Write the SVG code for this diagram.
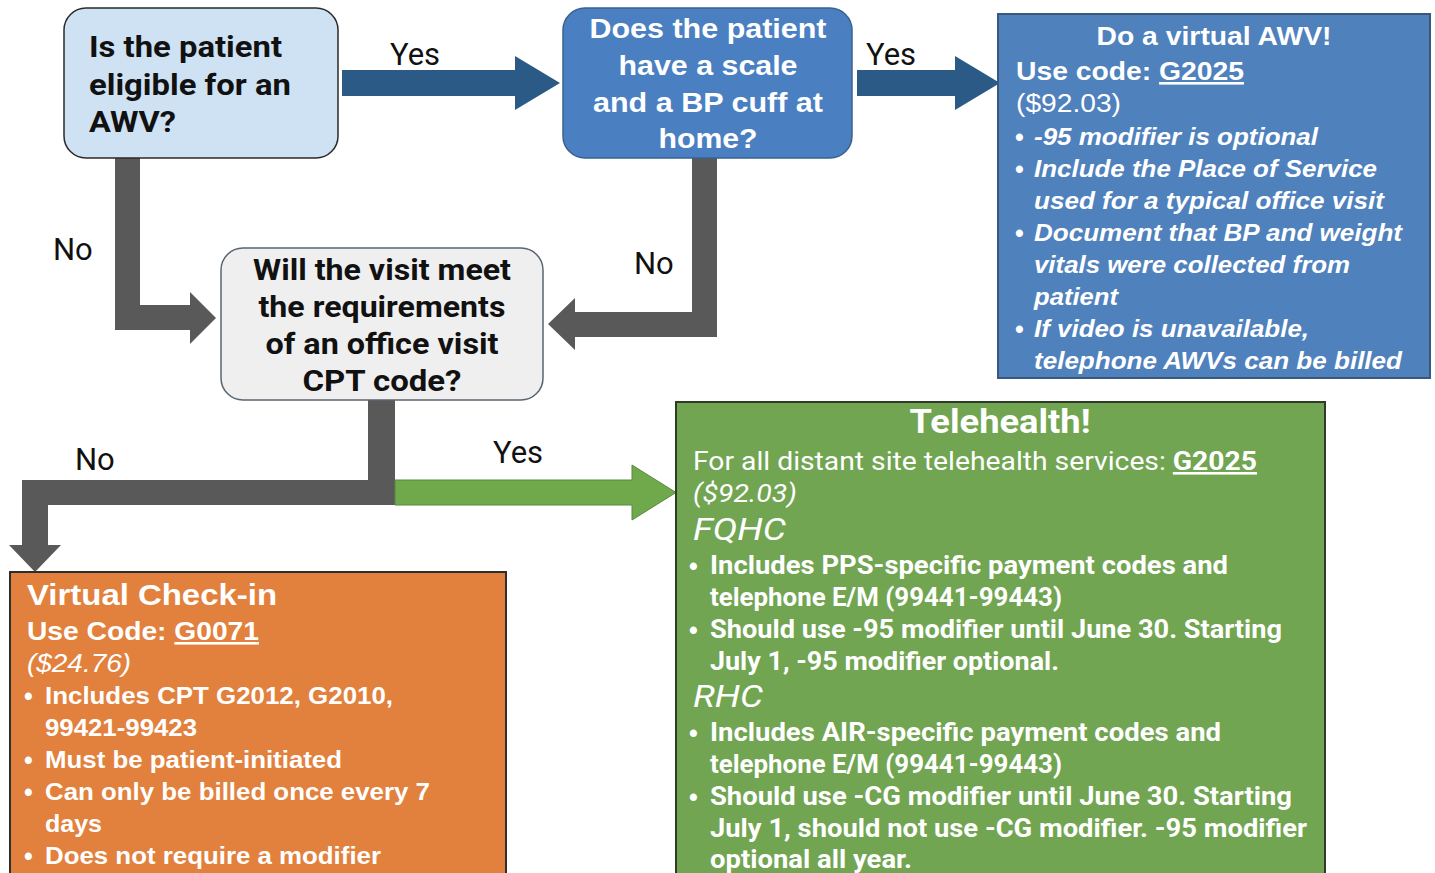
<svg xmlns="http://www.w3.org/2000/svg" width="1435" height="873" viewBox="0 0 1435 873">
<style>
.lbl{font-family:Roboto,"Liberation Sans",sans-serif;font-size:31px;fill:#111}
.q1{font-family:Roboto,"Liberation Sans",sans-serif;font-weight:bold;font-size:30px;fill:#111}
.q2{font-family:"Liberation Sans",Arial,sans-serif;font-weight:bold;font-size:28px;fill:#fff;text-anchor:middle}
.q3{font-family:Roboto,"Liberation Sans",sans-serif;font-weight:bold;font-size:29px;fill:#111;text-anchor:middle}
.w{font-family:"Liberation Sans",Arial,sans-serif;fill:#fff}
.wr{font-family:Roboto,"Liberation Sans",sans-serif;fill:#fff}
.b{font-weight:bold}
.i{font-style:italic}
.u{text-decoration:underline}
.dot{font-family:"Liberation Sans",Arial,sans-serif;font-size:25px;font-style:normal;font-weight:bold;fill:#fff}
.gray{fill:#595959}
.navy{fill:#2b5a86}
</style>
<g id="connectors">
<path class="gray" d="M115,158 H140 V305 H190 V292 L216,318 L190,344 V330 H115 Z"/>
<path class="gray" d="M692,158 H717 V337 H575 V350 L548,324 L575,298 V312 H692 Z"/>
<path class="gray" d="M368,400 H395 V505 H48 V545 H61 L35,572 L9,545 H22 V480 H368 Z"/>
<path fill="#70a84c" stroke="#5b8a3e" stroke-width="1" d="M395,480 H632 V465 L676,492.5 L632,520 V505 H395 Z"/>
<path class="navy" d="M342,70 H515 V56 L560,83 L515,110 V96 H342 Z"/>
<path class="navy" d="M857,70 H955 V56 L1000,83 L955,110 V96 H857 Z"/>
<text class="lbl" x="390" y="65">Yes</text>
<text class="lbl" x="866" y="65">Yes</text>
<text class="lbl" x="53" y="260">No</text>
<text class="lbl" x="634" y="274">No</text>
<text class="lbl" x="75" y="470">No</text>
<text class="lbl" x="493" y="463">Yes</text>
</g>
<g id="node-eligible">
<rect x="64" y="8" width="274" height="150" rx="22" fill="#cfe2f3" stroke="#2a2a2a" stroke-width="1.5"/>
<text class="q1" x="89" y="57" textLength="193" lengthAdjust="spacingAndGlyphs">Is the patient</text>
<text class="q1" x="89" y="95" textLength="202" lengthAdjust="spacingAndGlyphs">eligible for an</text>
<text class="q1" x="89" y="132" textLength="87" lengthAdjust="spacingAndGlyphs">AWV?</text>
</g>
<g id="node-scale">
<rect x="563" y="8" width="289" height="150" rx="22" fill="#4a80c2" stroke="#3a628f" stroke-width="1.5"/>
<text class="q2" x="708" y="38" textLength="237" lengthAdjust="spacingAndGlyphs">Does the patient</text>
<text class="q2" x="708" y="75" textLength="179" lengthAdjust="spacingAndGlyphs">have a scale</text>
<text class="q2" x="708" y="112" textLength="230" lengthAdjust="spacingAndGlyphs">and a BP cuff at</text>
<text class="q2" x="708" y="148" textLength="99" lengthAdjust="spacingAndGlyphs">home?</text>
</g>
<g id="node-office">
<rect x="221" y="248" width="322" height="152" rx="22" fill="#efefef" stroke="#5a6470" stroke-width="1.5"/>
<text class="q3" x="382" y="280" textLength="258" lengthAdjust="spacingAndGlyphs">Will the visit meet</text>
<text class="q3" x="382" y="317" textLength="247" lengthAdjust="spacingAndGlyphs">the requirements</text>
<text class="q3" x="382" y="354" textLength="233" lengthAdjust="spacingAndGlyphs">of an office visit</text>
<text class="q3" x="382" y="391" textLength="159" lengthAdjust="spacingAndGlyphs">CPT code?</text>
</g>
<g id="node-awv">
<rect x="998" y="14" width="432" height="364" fill="#4f81bd" stroke="#37597f" stroke-width="2"/>
<g class="w" font-size="26">
<text class="b" x="1214" y="45" text-anchor="middle" textLength="235" lengthAdjust="spacingAndGlyphs">Do a virtual AWV!</text>
<text class="b" x="1016" y="80" textLength="228" lengthAdjust="spacingAndGlyphs">Use code: <tspan class="u">G2025</tspan></text>
<text x="1016" y="112" textLength="105" lengthAdjust="spacingAndGlyphs">($92.03)</text>
</g>
<g class="w b i" font-size="24">
<text class="dot" x="1015" y="146">•</text><text x="1034" y="145" textLength="284" lengthAdjust="spacingAndGlyphs">-95 modifier is optional</text>
<text class="dot" x="1015" y="178">•</text><text x="1034" y="177" textLength="343" lengthAdjust="spacingAndGlyphs">Include the Place of Service</text>
<text x="1034" y="209" textLength="350" lengthAdjust="spacingAndGlyphs">used for a typical office visit</text>
<text class="dot" x="1015" y="242">•</text><text x="1034" y="241" textLength="368" lengthAdjust="spacingAndGlyphs">Document that BP and weight</text>
<text x="1034" y="273" textLength="316" lengthAdjust="spacingAndGlyphs">vitals were collected from</text>
<text x="1034" y="305" textLength="84" lengthAdjust="spacingAndGlyphs">patient</text>
<text class="dot" x="1015" y="338">•</text><text x="1034" y="337" textLength="275" lengthAdjust="spacingAndGlyphs">If video is unavailable,</text>
<text x="1034" y="369" textLength="368" lengthAdjust="spacingAndGlyphs">telephone AWVs can be billed</text>
</g>
</g>
<g id="node-telehealth">
<rect x="676" y="402" width="649" height="475" fill="#71a552" stroke="#2f3a2a" stroke-width="2"/>
<g class="wr">
<text class="b" x="1000" y="433" font-size="33" text-anchor="middle" textLength="181" lengthAdjust="spacingAndGlyphs">Telehealth!</text>
<text x="693" y="470" font-size="26" textLength="564" lengthAdjust="spacingAndGlyphs">For all distant site telehealth services: <tspan class="b u">G2025</tspan></text>
<text class="i" x="693" y="502" font-size="26" textLength="104" lengthAdjust="spacingAndGlyphs">($92.03)</text>
<text class="i" x="693" y="540" font-size="32" textLength="93" lengthAdjust="spacingAndGlyphs">FQHC</text>
<text class="i" x="693" y="707" font-size="32" textLength="70" lengthAdjust="spacingAndGlyphs">RHC</text>
</g>
<g class="wr b" font-size="25">
<text class="dot" x="689" y="575">•</text><text x="710" y="574" textLength="518" lengthAdjust="spacingAndGlyphs">Includes PPS-specific payment codes and</text>
<text x="710" y="606" textLength="352" lengthAdjust="spacingAndGlyphs">telephone E/M (99441-99443)</text>
<text class="dot" x="689" y="639">•</text><text x="710" y="638" textLength="572" lengthAdjust="spacingAndGlyphs">Should use -95 modifier until June 30. Starting</text>
<text x="710" y="670" textLength="349" lengthAdjust="spacingAndGlyphs">July 1, -95 modifier optional.</text>
<text class="dot" x="689" y="742">•</text><text x="710" y="741" textLength="511" lengthAdjust="spacingAndGlyphs">Includes AIR-specific payment codes and</text>
<text x="710" y="773" textLength="352" lengthAdjust="spacingAndGlyphs">telephone E/M (99441-99443)</text>
<text class="dot" x="689" y="806">•</text><text x="710" y="805" textLength="582" lengthAdjust="spacingAndGlyphs">Should use -CG modifier until June 30. Starting</text>
<text x="710" y="837" textLength="597" lengthAdjust="spacingAndGlyphs">July 1, should not use -CG modifier. -95 modifier</text>
<text x="710" y="868" textLength="202" lengthAdjust="spacingAndGlyphs">optional all year.</text>
</g>
</g>
<g id="node-checkin">
<rect x="10" y="572" width="496" height="305" fill="#e2813e" stroke="#2e2e2e" stroke-width="2"/>
<g class="w">
<text class="b" x="27" y="605" font-size="30" textLength="250" lengthAdjust="spacingAndGlyphs">Virtual Check-in</text>
<text class="b" x="27" y="640" font-size="26" textLength="232" lengthAdjust="spacingAndGlyphs">Use Code: <tspan class="u">G0071</tspan></text>
<text class="i" x="27" y="672" font-size="26" textLength="104" lengthAdjust="spacingAndGlyphs">($24.76)</text>
</g>
<g class="w b" font-size="24">
<text class="dot" x="24" y="705">•</text><text x="45" y="704" textLength="348" lengthAdjust="spacingAndGlyphs">Includes CPT G2012, G2010,</text>
<text x="45" y="736" textLength="152" lengthAdjust="spacingAndGlyphs">99421-99423</text>
<text class="dot" x="24" y="769">•</text><text x="45" y="768" textLength="297" lengthAdjust="spacingAndGlyphs">Must be patient-initiated</text>
<text class="dot" x="24" y="801">•</text><text x="45" y="800" textLength="385" lengthAdjust="spacingAndGlyphs">Can only be billed once every 7</text>
<text x="45" y="832" textLength="57" lengthAdjust="spacingAndGlyphs">days</text>
<text class="dot" x="24" y="865">•</text><text x="45" y="864" textLength="336" lengthAdjust="spacingAndGlyphs">Does not require a modifier</text>
</g>
</g>
</svg>
